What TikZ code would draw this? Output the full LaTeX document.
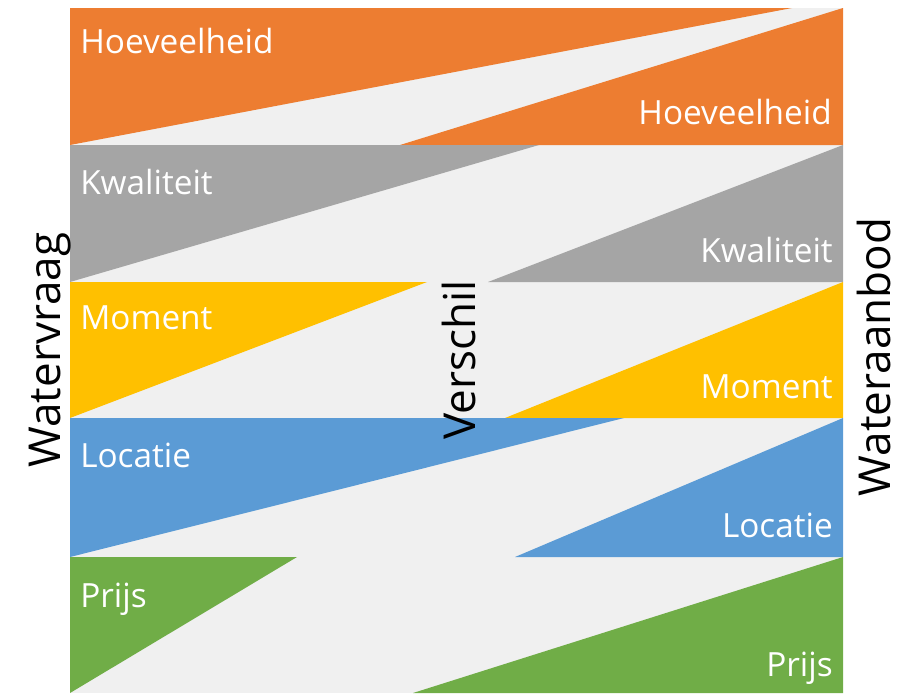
\documentclass[tikz,border=0pt]{standalone}
\usepackage{fontspec}
\setmainfont{Open Sans}
\usetikzlibrary{positioning}
\definecolor{vorange}{HTML}{ED7D31}
\definecolor{vgray}{HTML}{A5A5A5}
\definecolor{vyellow}{HTML}{FFC000}
\definecolor{vblue}{HTML}{5B9BD5}
\definecolor{vgreen}{HTML}{70AD47}
\definecolor{vback}{HTML}{F0F0F0}
\tikzset{
  px/.style={x=0.75pt,y=-0.75pt},
  canvas/.style={fill=vback},
  lbl/.style={text=white,font=\fontsize{25}{30}\selectfont,inner sep=0pt},
  lblL/.style={lbl,anchor=base west},
  lblR/.style={lbl,anchor=base east},
  sidelbl/.style={font=\fontsize{33}{40}\selectfont,rotate=90,anchor=base,
    inner sep=0pt},
}

\begin{document}
\begin{tikzpicture}[px]
  \useasboundingbox (0,0) rectangle (910,693);
  \fill[canvas] (70,8) rectangle (843,693);
  % vraag links, aanbod rechts
  \fill[vorange] (70,8) -- (792,8) -- (70,145) -- cycle;
  \fill[vorange] (843,8) -- (843,145) -- (400,145) -- cycle;
  \fill[vgray] (70,145) -- (539,145) -- (70,282) -- cycle;
  \fill[vgray] (843,145) -- (843,282) -- (488,282) -- cycle;
  \fill[vyellow] (70,282) -- (427,282) -- (70,418) -- cycle;
  \fill[vyellow] (843,282) -- (843,418) -- (505,418) -- cycle;
  \fill[vblue] (70,418) -- (624,418) -- (70,557) -- cycle;
  \fill[vblue] (843,418) -- (843,557) -- (515,557) -- cycle;
  \fill[vgreen] (70,557) -- (297,557) -- (70,693) -- cycle;
  \fill[vgreen] (843,557) -- (843,693) -- (413,693) -- cycle;
  \node[lblL] (hoevL) at (80,53) {Hoeveelheid};
  \node[lblR] (hoevR) at (832,124) {Hoeveelheid};
  \node[lblL] (kwalL) at (80,194) {Kwaliteit};
  \node[lblR] (kwalR) at (833,262) {Kwaliteit};
  \node[lblL] (momL) at (80,329) {Moment};
  \node[lblR] (momR) at (833,398) {Moment};
  \node[lblL] (locL) at (80,467) {Locatie};
  \node[lblR] (locR) at (833,537) {Locatie};
  \node[lblL] (prijsL) at (80,607) {Prijs};
  \node[lblR] (prijsR) at (833,676) {Prijs};
  \node[sidelbl] (vraag) at (60,350) {Watervraag};
  \node[sidelbl] (verschil) at (475,360) {Verschil};
  \node[sidelbl] (aanbod) at (890,357) {Wateraanbod};
\end{tikzpicture}
\end{document}
